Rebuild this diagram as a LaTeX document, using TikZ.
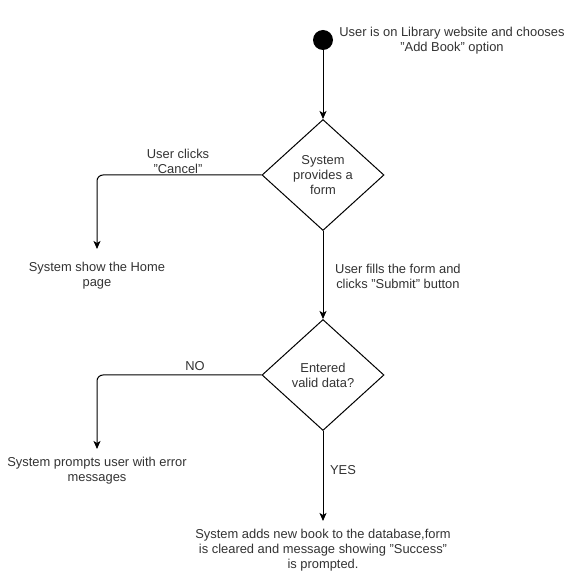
\documentclass[tikz,border=0pt]{standalone}
\usepackage{fontspec}
\setmainfont[Ligatures=NoCommon]{Liberation Sans}
\usetikzlibrary{shapes.geometric,arrows.meta}
\newcommand{\qq}[1]{\symbol{34}#1\symbol{34}}
\begin{document}
\begin{tikzpicture}[x=1pt,y=-1pt,
  txt/.style={font=\fontsize{12.9}{15.2}\selectfont, align=center, inner sep=0pt, text=black!80},
  dec/.style={diamond, draw, line width=1pt, minimum width=122pt, minimum height=111pt, inner sep=0pt, aspect=1.1},
  conn/.style={line width=1pt, -{Stealth[length=8pt,width=7pt,inset=2pt]}},
  plain/.style={line width=1pt}]
\useasboundingbox (0,0) rectangle (574,572);
\fill[white] (0,0) rectangle (574,572);
\node[circle, fill=black, minimum size=20pt, inner sep=0pt] (start) at (323,40) {};
\node[txt] (t0) at (452,41) {User is on Library website and chooses\\\qq{Add Book} option};
\node[dec] (d1) at (323,175) {};
\node[txt] at (d1) {System\\provides a\\form};
\node[dec] (d2) at (323,375) {};
\node[txt] at (d2) {Entered\\valid data?};
\coordinate (c1) at (97,175);
\coordinate (e1) at (97,249);
\coordinate (c2) at (97,375);
\coordinate (e2) at (97,449);
\coordinate (e3) at (323,521);
\node[txt] (home) at (97,276) {System show the Home\\page};
\node[txt] (err) at (97,471) {System prompts user with error\\messages};
\node[txt] (succ) at (323,550) {System adds new book to the database,form\\is cleared and message showing \qq{Success}\\is prompted.};
\draw[conn] (start) -- (d1.north);
\draw[conn, rounded corners=6pt] (d1.west) -- (c1) -- (e1);
\node[txt] at (178,161) {User clicks\\\qq{Cancel}};
\draw[conn] (d1.south) -- (d2.north);
\node[txt, anchor=west] at (335,276) {User fills the form and\\clicks \qq{Submit} button};
\draw[conn, rounded corners=6pt] (d2.west) -- (c2) -- (e2);
\node[txt] at (195,366) {NO};
\draw[conn] (d2.south) -- (e3);
\node[txt] at (343,470) {YES};
\end{tikzpicture}
\end{document}
